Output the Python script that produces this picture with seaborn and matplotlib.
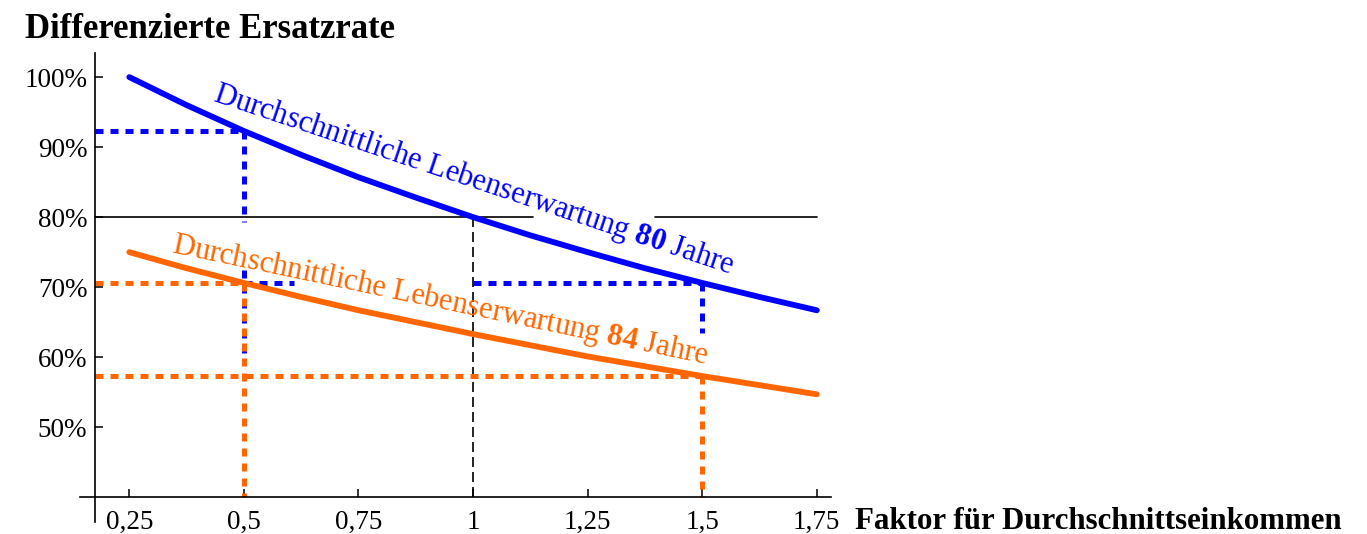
import pandas as pd
import matplotlib.pyplot as plt
import seaborn as sns

# values
faktor = [0.25, 0.375, 0.5, 0.625, 0.75, 0.875, 1.0, 1.125, 1.25, 1.375, 1.5, 1.625, 1.75]
rate_80 = [100.0, 96.0, 92.3, 88.9, 85.7, 82.8, 80.0, 77.4, 75.0, 72.7, 70.6, 68.6, 66.7]
rate_84 = [75.0, 72.7, 70.6, 68.6, 66.7, 65.0, 63.3, 61.7, 60.1, 58.7, 57.3, 56.0, 54.7]

x_ticks = [0.25, 0.5, 0.75, 1.0, 1.25, 1.5, 1.75]
x_ticklabels = ['0,25', '0,5', '0,75', '1', '1,25', '1,5', '1,75']
y_ticks = [50, 60, 70, 80, 90, 100]
y_ticklabels = ['50%', '60%', '70%', '80%', '90%', '100%']

# reference lines (x0, y0, x1, y1)
blue_guides = [(0.175, 92.3, 0.5, 92.3), (0.5, 92.3, 0.5, 79.3), (0.5, 72.5, 0.5, 60.4),
               (0.5, 70.6, 0.61, 70.6), (1.0, 70.6, 1.5, 70.6), (1.5, 70.6, 1.5, 63.5)]
orange_guides = [(0.175, 70.6, 0.5, 70.6), (0.5, 70.6, 0.5, 40),
                 (0.175, 57.3, 1.5, 57.3), (1.5, 57.3, 1.5, 40)]
black_guides = [(0.175, 80, 1.131, 80), (1.398, 80, 1.75, 80)]

BLUE = '#0000ff'
ORANGE = '#ff6600'

sns.set_theme(style='white')
plt.rcParams['font.family'] = ['Liberation Serif', 'DejaVu Serif']
plt.rcParams['mathtext.fontset'] = 'custom'
plt.rcParams['mathtext.rm'] = 'Liberation Serif'
plt.rcParams['mathtext.bf'] = 'Liberation Serif:style=normal:weight=bold'

df = pd.DataFrame({
    'faktor': faktor * 2,
    'rate': rate_80 + rate_84,
    'lebenserwartung': ['80'] * len(faktor) + ['84'] * len(faktor),
})

fig = plt.figure(figsize=(13.67, 5.34), dpi=100)
ax = fig.add_axes([80 / 1367, (534 - 521.7) / 534, (831 - 80) / 1367, (521.7 - 53.3) / 534])

# guide lines
dot = (0, (1.6, 1.4))
for x0, y0, x1, y1 in blue_guides:
    ax.plot([x0, x1], [y0, y1], color=BLUE, lw=3.6, linestyle=dot, zorder=2)
for x0, y0, x1, y1 in orange_guides:
    ax.plot([x0, x1], [y0, y1], color=ORANGE, lw=3.6, linestyle=dot, zorder=2.5)
for x0, y0, x1, y1 in black_guides:
    ax.plot([x0, x1], [y0, y1], color='black', lw=1.2, zorder=1.5)
ax.plot([1.0, 1.0], [80, 40], color='black', lw=1.2, linestyle=(0, (6, 3)), zorder=1.5)

sns.lineplot(data=df, x='faktor', y='rate', hue='lebenserwartung',
             palette={'80': BLUE, '84': ORANGE}, linewidth=4.2, legend=False,
             ax=ax, zorder=4)

ax.text(0.4306, 96.6, r'Durchschnittliche Lebenserwartung $\mathbf{80}$ Jahre',
        color=BLUE, fontsize=22, rotation=-18.5, rotation_mode='anchor',
        ha='left', va='baseline', zorder=3)
ax.text(0.341, 74.97, r'Durchschnittliche Lebenserwartung $\mathbf{84}$ Jahre',
        color=ORANGE, fontsize=22, rotation=-11.8, rotation_mode='anchor',
        ha='left', va='baseline', zorder=3)

ax.set_xlim(0.1424, 1.781)
ax.set_ylim(36.5, 103.4)
ax.spines['top'].set_visible(False)
ax.spines['right'].set_visible(False)
ax.spines['left'].set_position(('data', 0.175))
ax.spines['bottom'].set_position(('data', 40))
for side in ['left', 'bottom']:
    ax.spines[side].set_color('black')
    ax.spines[side].set_linewidth(1.2)

ax.set_xticks(x_ticks)
ax.set_xticklabels(x_ticklabels)
ax.set_yticks(y_ticks)
ax.set_yticklabels(y_ticklabels)
ax.tick_params(axis='both', direction='in', length=6, width=1.1, color='black',
               labelsize=19.5, labelcolor='black')
ax.tick_params(axis='x', pad=9, bottom=True)
ax.tick_params(axis='y', pad=5.5, left=True)
ax.set_xlabel('')
ax.set_ylabel('')
ax.patch.set_alpha(0)

fig.text(25 / 1367, 1 - 38 / 534, 'Differenzierte Ersatzrate', fontsize=25,
         fontweight='bold', ha='left', va='baseline', color='black')
fig.text(855 / 1367, 1 - 529 / 534, 'Faktor für Durchschnittseinkommen', fontsize=22.2,
         fontweight='bold', ha='left', va='baseline', color='black')

fig.savefig('out.png', dpi=100, facecolor='white')
